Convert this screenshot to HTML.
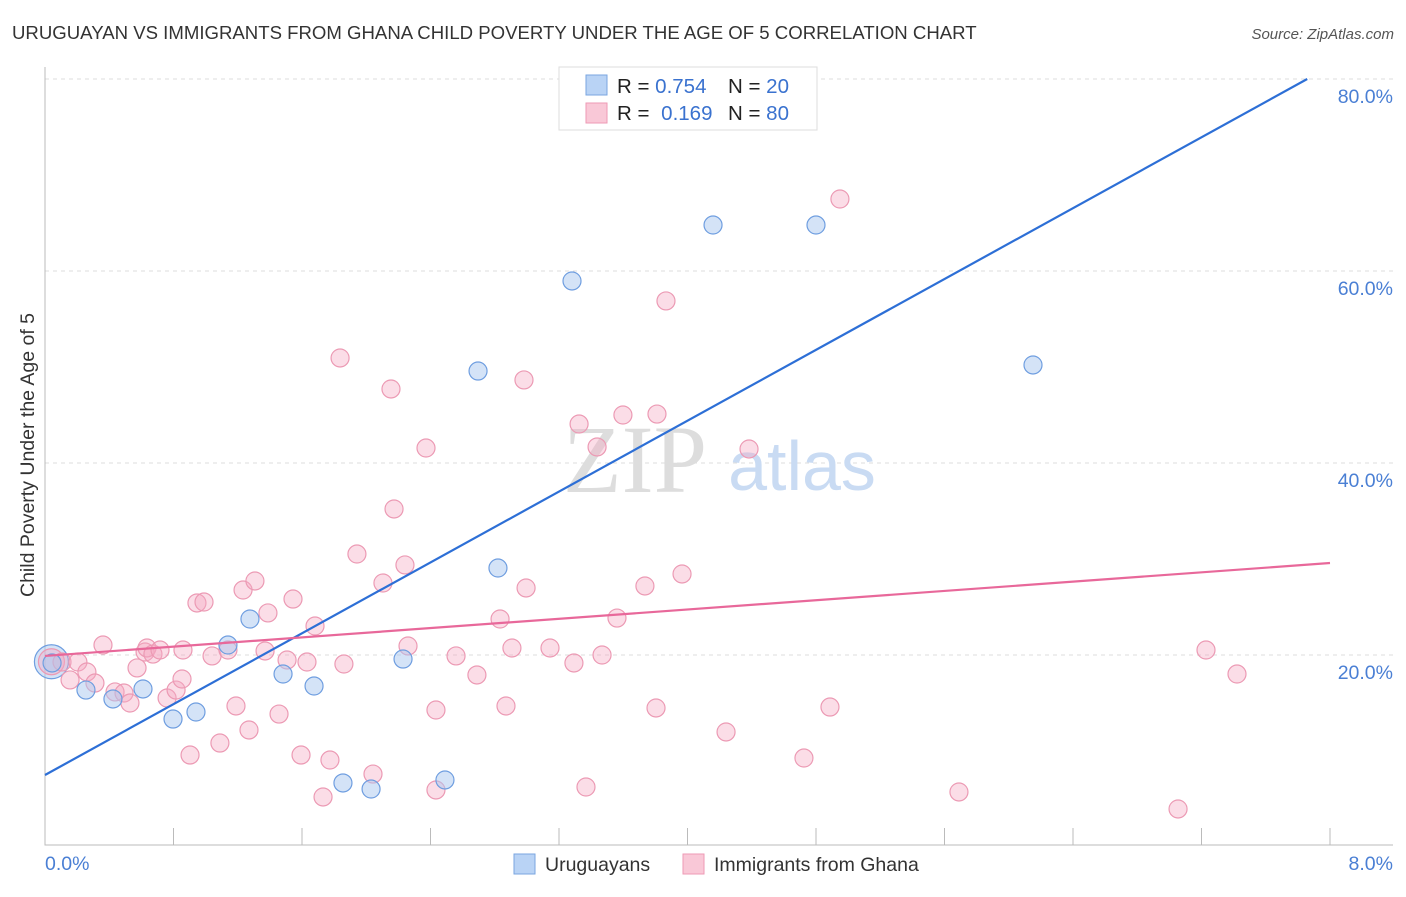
<!DOCTYPE html>
<html><head><meta charset="utf-8"><style>
body{margin:0;background:#fff;font-family:"Liberation Sans",sans-serif}
svg text{font-family:"Liberation Sans",sans-serif}
</style></head><body>
<svg width="1406" height="892" xmlns="http://www.w3.org/2000/svg">
<text x="12" y="39" font-size="18.6" fill="#333">URUGUAYAN VS IMMIGRANTS FROM GHANA CHILD POVERTY UNDER THE AGE OF 5 CORRELATION CHART</text>
<text x="1394" y="39" font-size="15" fill="#555" font-style="italic" text-anchor="end">Source: ZipAtlas.com</text>
<g id="grid"></g>
<text x="635" y="492" font-size="96" fill="#ddd" font-family="Liberation Serif" text-anchor="middle" style="font-family:'Liberation Serif',serif">ZIP</text>
<text x="802" y="490" font-size="70" fill="#c9dbf3" text-anchor="middle">atlas</text>
<g id="pts"></g>
<g id="lines"></g>
<text transform="translate(34,455) rotate(-90)" font-size="19.5" fill="#333" text-anchor="middle">Child Poverty Under the Age of 5</text>
<text x="45" y="870" font-size="19.5" fill="#4a7fd4">0.0%</text>
<text x="1393" y="870" font-size="19.5" fill="#4a7fd4" text-anchor="end">8.0%</text>
<g>
<rect x="559" y="67" width="258" height="63" fill="#fff" stroke="#ddd"/>
<rect x="586" y="75" width="21" height="20" fill="#b9d3f5" stroke="#7aa6e0"/>
<rect x="586" y="103" width="21" height="20" fill="#f9c8d7" stroke="#ee9ab4"/>
<text x="617" y="93" font-size="20.5" fill="#222">R = <tspan fill="#3a72cf">0.754</tspan></text>
<text x="728" y="93" font-size="20.5" fill="#222">N = <tspan fill="#3a72cf">20</tspan></text>
<text x="617" y="120" font-size="20.5" fill="#222">R = <tspan fill="#3a72cf" dx="6">0.169</tspan></text>
<text x="728" y="120" font-size="20.5" fill="#222">N = <tspan fill="#3a72cf">80</tspan></text>
</g>
<g>
<rect x="514" y="854" width="21" height="20" fill="#b9d3f5" stroke="#7aa6e0"/>
<text x="545" y="871" font-size="19.5" fill="#333">Uruguayans</text>
<rect x="683" y="854" width="21" height="20" fill="#f9c8d7" stroke="#ee9ab4"/>
<text x="714" y="871" font-size="19.5" fill="#333">Immigrants from Ghana</text>
</g>
</svg>
<script>
const yTicks=[20,40,60,80];
const yTickLabels=["20.0%","40.0%","60.0%","80.0%"];
const xTicks=[0,0.8,1.6,2.4,3.2,4,4.8,5.6,6.4,7.2,8];
const bluePx=[[52,663],[86,690],[113,699],[143,689],[173,719],[196,712],[228,645],[250,619],[283,674],[314,686],[343,783],[371,789],[403,659],[445,780],[478,371],[498,568],[572,281],[713,225],[816,225],[1033,365]];
const pinkPx=[[62,662],[70,680],[78,662],[87,672],[95,683],[103,645],[115,692],[124,693],[130,703],[137,668],[145,652],[147,648],[153,654],[160,650],[167,698],[176,690],[182,679],[183,650],[190,755],[197,603],[204,602],[212,656],[220,743],[228,650],[236,706],[243,590],[249,730],[255,581],[265,651],[268,613],[279,714],[287,660],[293,599],[301,755],[307,662],[315,626],[323,797],[330,760],[340,358],[344,664],[357,554],[373,774],[383,583],[391,389],[394,509],[405,565],[408,646],[426,448],[436,710],[436,790],[456,656],[477,675],[500,619],[506,706],[512,648],[524,380],[526,588],[550,648],[574,663],[579,424],[586,787],[597,447],[602,655],[617,618],[623,415],[645,586],[656,708],[657,414],[666,301],[682,574],[726,732],[749,449],[804,758],[830,707],[840,199],[959,792],[1178,809],[1206,650],[1237,674]];
const blueX=bluePx.map(p=>+((p[0]-45)/160.625).toFixed(3));
const blueY=bluePx.map(p=>+((847-p[1])/9.6).toFixed(2));
const pinkX=pinkPx.map(p=>+((p[0]-45)/160.625).toFixed(3));
const pinkY=pinkPx.map(p=>+((847-p[1])/9.6).toFixed(2));
const blueBigX=[0.04],blueBigY=[19.3];
const pinkBigX=[0.04],pinkBigY=[19.3];
const blueFit=[7.5,9.226];
const pinkFit=[19.9,1.21];
const NS="http://www.w3.org/2000/svg";
const sx=v=>45+v*160.625, sy=v=>847-v*9.6;
function mk(t,a,p){const e=document.createElementNS(NS,t);for(const k in a)e.setAttribute(k,a[k]);p.appendChild(e);return e;}
const grid=document.getElementById('grid');
yTicks.forEach((v,i)=>{
 const l=mk('line',{x1:45,x2:1393,y1:sy(v),y2:sy(v),stroke:'#ddd','stroke-dasharray':'4,4'},grid);
 
 
 const t=mk('text',{x:1393,y:sy(v)+24,'font-size':19.5,fill:'#4a7fd4','text-anchor':'end'},grid);
 t.textContent=yTickLabels[i];
 
 
});
const ax=mk('path',{d:'M45,67V845H1393',fill:'none',stroke:'#bbb'},grid);


xTicks.forEach(v=>{
 const t=mk('line',{x1:sx(v),x2:sx(v),y1:828,y2:845,stroke:'#bbb'},grid);
 
 
});
const pts=document.getElementById('pts');
function dot(x,y,r,blue){
 const c=mk('circle',{cx:sx(x),cy:sy(y),r:r,fill:blue?'rgba(169,200,240,0.5)':'rgba(245,170,195,0.4)',stroke:blue?'#6f9ee0':'#ec9ab4','stroke-width':1.2},pts);
 
 
}
dot(blueBigX[0],blueBigY[0],17,true);
dot(pinkBigX[0],pinkBigY[0],13,false);
pinkX.forEach((x,i)=>dot(x,pinkY[i],9,false));
blueX.forEach((x,i)=>dot(x,blueY[i],9,true));
const lines=document.getElementById('lines');
const bxEnd=(80-blueFit[0])/blueFit[1];
const bl=mk('line',{x1:sx(0),y1:sy(blueFit[0]),x2:sx(bxEnd),y2:sy(blueFit[0]+blueFit[1]*bxEnd),stroke:'#2d6fd6','stroke-width':2.2},lines);


const pl=mk('line',{x1:sx(0),y1:sy(pinkFit[0]),x2:sx(8),y2:sy(pinkFit[0]+pinkFit[1]*8),stroke:'#e8689a','stroke-width':2.2},lines);


</script>
</body></html>
